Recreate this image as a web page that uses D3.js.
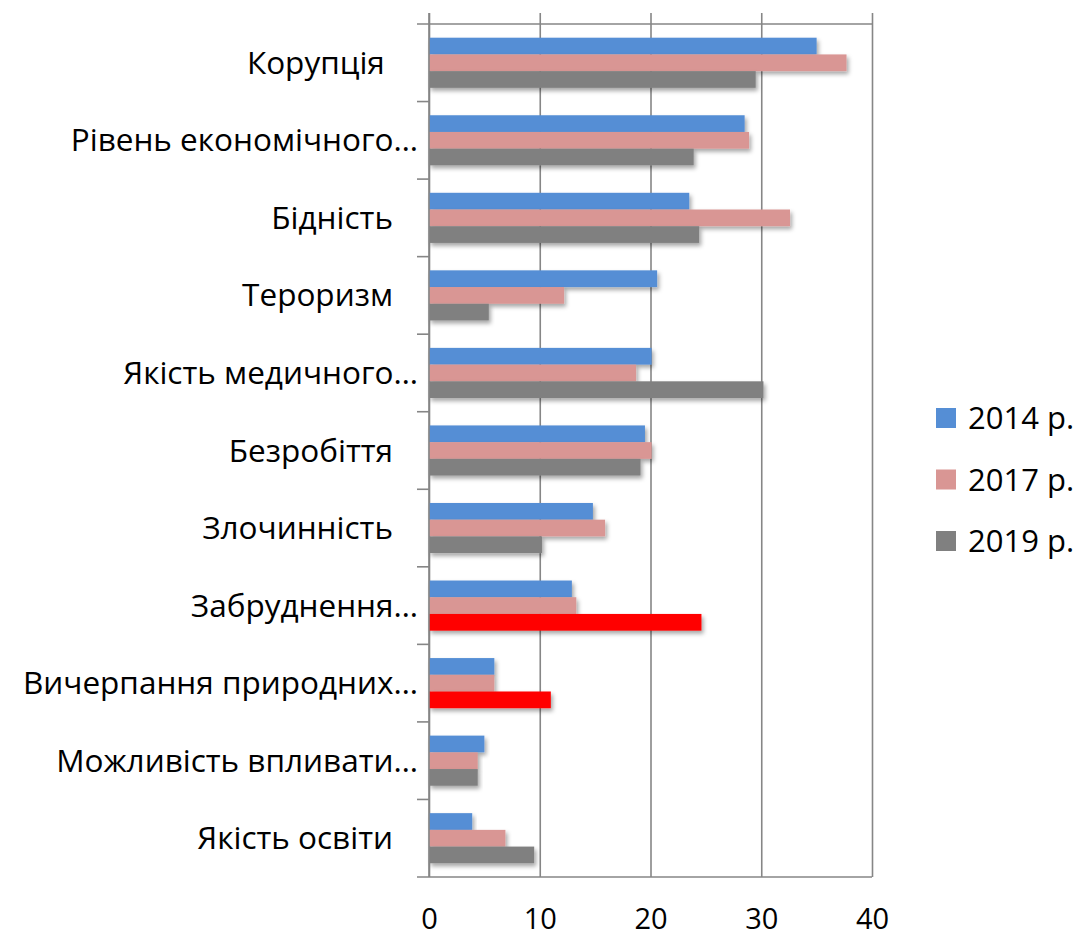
<!DOCTYPE html>
<html>
<head>
<meta charset="utf-8">
<script src="https://cdn.jsdelivr.net/npm/d3@7"></script>
<style>
  body { margin: 0; background: #fff; }
  text { font-family: "Open Sans", "Noto Sans", sans-serif; fill: #000; }
</style>
</head>
<body>
<div id="chart"></div>
<script>
// categories, top to bottom
const categories = [
  "Корупція",
  "Рівень економічного…",
  "Бідність",
  "Тероризм",
  "Якість медичного…",
  "Безробіття",
  "Злочинність",
  "Забруднення…",
  "Вичерпання природних…",
  "Можливість впливати…",
  "Якість освіти"
];
const years = ["2014 р.", "2017 р.", "2019 р."];

const values2014 = [35.0, 28.5, 23.5, 20.6, 20.1, 19.5, 14.8, 12.9, 5.9, 5.0, 3.9];
const values2017 = [37.7, 28.9, 32.6, 12.2, 18.7, 20.1, 15.9, 13.3, 5.9, 4.4, 6.9];
const values2019 = [29.5, 23.9, 24.4, 5.4, 30.2, 19.1, 10.2, 24.6, 11.0, 4.4, 9.5];

const xTicks = [0, 10, 20, 30, 40];

// 2019 points that were coloured red in the original
const redPoints = ["Забруднення…", "Вичерпання природних…"];

const colors = { "2014 р.": "#558ed5", "2017 р.": "#d99694", "2019 р.": "#808080" };

const seriesValues = [values2014, values2017, values2019];
const rows = categories.map((c, i) => {
  const r = { cat: c };
  years.forEach((yr, j) => (r[yr] = seriesValues[j][i]));
  return r;
});

const width = 1081, height = 937;
const plot = { left: 429, right: 872, top: 24, bottom: 877 };

const svg = d3.select("#chart").append("svg")
  .attr("width", width)
  .attr("height", height);

// soft shadow under bars
const defs = svg.append("defs");
defs.append("filter")
  .attr("id", "shadow")
  .attr("x", "-5%").attr("y", "-30%")
  .attr("width", "115%").attr("height", "190%")
  .append("feDropShadow")
  .attr("dx", 2).attr("dy", 3)
  .attr("stdDeviation", 2)
  .attr("flood-color", "#000")
  .attr("flood-opacity", 0.35);

const x = d3.scaleLinear().domain([0, 40]).range([plot.left, plot.right]);

const y = d3.scaleBand()
  .domain(categories)
  .range([plot.top, plot.bottom])
  .padding(0);

const y1 = d3.scaleBand()
  .domain(years)
  .range([0, y.bandwidth()])
  .paddingInner(0)
  .paddingOuter(0.82);

const gridColor = "#868686";

// vertical gridlines + bottom labels
const xAxis = svg.append("g")
  .attr("transform", `translate(0,${plot.bottom})`)
  .call(d3.axisBottom(x)
    .tickValues(xTicks)
    .tickSizeInner(-(plot.bottom - 13))
    .tickSizeOuter(0)
    .tickPadding(0));
xAxis.select(".domain").remove();
xAxis.selectAll(".tick line").attr("stroke", gridColor).attr("stroke-width", 1.6);
xAxis.selectAll(".tick text")
  .style("font-size", "29px")
  .attr("y", 52)
  .attr("dy", null);

// top and bottom horizontal lines
svg.append("g")
  .selectAll("line")
  .data([plot.top, plot.bottom])
  .join("line")
  .attr("x1", plot.left - 12)
  .attr("x2", plot.right)
  .attr("y1", d => d)
  .attr("y2", d => d)
  .attr("stroke", gridColor)
  .attr("stroke-width", 1.6);

// category boundary ticks on the left axis
svg.append("g")
  .selectAll("line")
  .data(categories.slice(1))
  .join("line")
  .attr("x1", plot.left - 12)
  .attr("x2", plot.left)
  .attr("y1", d => y(d))
  .attr("y2", d => y(d))
  .attr("stroke", gridColor)
  .attr("stroke-width", 1.6);

// bars
const groups = svg.append("g")
  .selectAll("g")
  .data(rows)
  .join("g")
  .attr("transform", d => `translate(0,${y(d.cat)})`);

groups.selectAll("rect")
  .data(d => years.map(yr => ({ cat: d.cat, year: yr, value: d[yr] })))
  .join("rect")
  .attr("x", x(0))
  .attr("y", d => y1(d.year))
  .attr("width", d => x(d.value) - x(0))
  .attr("height", y1.bandwidth())
  .attr("fill", d => (d.year === "2019 р." && redPoints.includes(d.cat)) ? "#ff0000" : colors[d.year])
  .attr("filter", "url(#shadow)");

// left axis line drawn over bars
svg.append("line")
  .attr("x1", plot.left).attr("x2", plot.left)
  .attr("y1", 13).attr("y2", plot.bottom)
  .attr("stroke", gridColor)
  .attr("stroke-width", 1.6);

// category labels
svg.append("g")
  .selectAll("text")
  .data(categories)
  .join("text")
  .attr("x", d => d.endsWith("…") ? plot.left - 11 : plot.left - 36)
  .attr("y", d => y(d) + y.bandwidth() / 2)
  .attr("dy", "0.35em")
  .attr("text-anchor", "end")
  .style("font-size", "31.5px")
  .style("white-space", "pre")
  .text(d => d === "Корупція" ? d + " " : d);

// legend
const legend = svg.append("g")
  .attr("transform", "translate(936,408)")
  .selectAll("g")
  .data(years)
  .join("g")
  .attr("transform", (d, i) => `translate(0,${i * 61.5})`);

legend.append("rect")
  .attr("width", 20)
  .attr("height", 20)
  .attr("fill", d => colors[d]);

legend.append("text")
  .attr("x", 32)
  .attr("y", 10)
  .attr("dy", "0.36em")
  .style("font-size", "31px")
  .text(d => d);
</script>
</body>
</html>
